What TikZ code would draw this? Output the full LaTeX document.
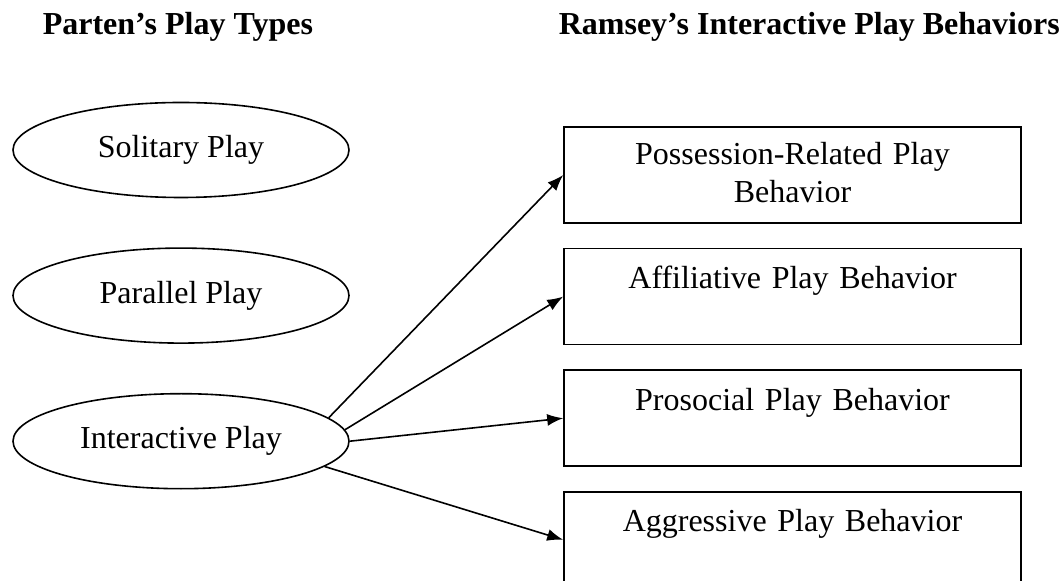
\documentclass[tikz,border=0pt]{standalone}
\usepackage{fontspec}
\setmainfont{Liberation Serif}
\usepackage{tikz}
\usetikzlibrary{positioning, arrows.meta, shapes.geometric}
\tikzstyle{play}=[draw, ellipse, minimum width=168pt, minimum height=47.5pt, inner sep=0pt]
\tikzstyle{beh}=[draw, rectangle, text width=228.5pt, align=center, inner sep=0pt, text height=20pt, text depth=28pt]
\tikzstyle{head}=[font=\fontsize{16}{19}\selectfont\bfseries, anchor=base west, inner sep=0pt]

\begin{document}
\begin{tikzpicture}[x=0.5pt,y=-0.5pt,node distance=24.5pt,line width=0.8pt,>={Latex[length=8pt,width=6pt]},font=\fontsize{16}{19}\selectfont]
      \useasboundingbox (0,0) rectangle (1063,581);
      \node [head] (ph) at (42,35) {Parten’s Play Types};
      \node [head] (rh) at (558,35) {Ramsey’s Interactive Play Behaviors};
      \node [play] (sol) at (181,150) {Solitary Play};
      \node [play] (par) [below=of sol] {Parallel Play};
      \node [play] (inter) [below=of par] {Interactive Play};
      \node [beh, text height=19pt, text depth=29pt] (poss) at (792.5,175) {Possession-Related Play\\Behavior};
      \node [beh] (aff) [below=12pt of poss] {Affiliative Play Behavior};
      \node [beh] (pro) [below=12pt of aff] {Prosocial Play Behavior};
      \node [beh] (agg) [below=12pt of pro] {Aggressive Play Behavior};
      \path[->] (inter.9) edge (poss.west);
      \path[->] (inter.4) edge (aff.west);
      \path[->] (inter.east) edge (pro.west);
      \path[->] (inter.-10) edge (agg.west);
  \end{tikzpicture}
\end{document}
